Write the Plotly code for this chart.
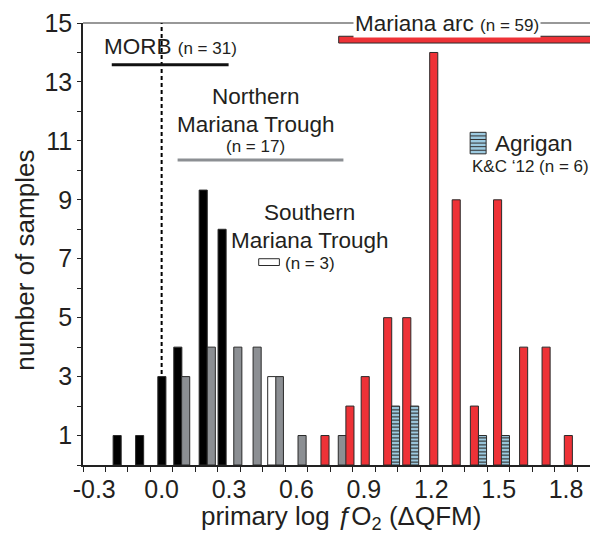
import plotly.graph_objects as go

# ---- data ----
morb_x = [-0.198, -0.098, 0.001, 0.072, 0.185, 0.269]
morb_y = [1, 1, 3, 4, 9.33, 8]
nmt_x = [0.107, 0.221, 0.339, 0.425, 0.524, 0.625, 0.804]
nmt_y = [3, 4, 4, 4, 3, 1, 1]
smt_x = [0.490]
smt_y = [3]
arc_x = [0.727, 0.838, 0.906, 1.006, 1.091, 1.211, 1.311, 1.392, 1.495, 1.611, 1.711, 1.810]
arc_y = [1, 2, 3, 5, 5, 14, 9, 2, 9, 4, 4, 1]
agr_x = [1.041, 1.126, 1.428, 1.530]
agr_y = [2, 2, 1, 1]

x_tick_vals = [-0.3, 0.0, 0.3, 0.6, 0.9, 1.2, 1.5, 1.8]
x_tick_text = ["-0.3", "0.0", "0.3", "0.6", "0.9", "1.2", "1.5", "1.8"]
x_edge_ticks = [round(-0.35 + 0.1 * k, 2) for k in range(23)]
y_tick_vals = list(range(0, 16))
y_tick_text = [str(v) if v % 2 == 1 else "" for v in y_tick_vals]

FONT = "Liberation Sans, Arial, Helvetica, sans-serif"
TXT = "#231f20"
OUT = "#2a2a2a"
BW = 0.036
RED = "#EE3237"
GRAY = "#8C8F93"
BLUE = "#9DCAE0"

fig = go.Figure()

def add_bars(x, y, color, name, pattern=None):
    marker = dict(color=color, line=dict(color=OUT, width=1))
    if pattern:
        marker["pattern"] = pattern
    fig.add_trace(go.Bar(x=x, y=y, width=BW, marker=marker, name=name,
                         showlegend=False))

add_bars(morb_x, morb_y, "#000000", "MORB")
add_bars(nmt_x, nmt_y, GRAY, "Northern Mariana Trough")
add_bars(smt_x, smt_y, "#FFFFFF", "Southern Mariana Trough")
add_bars(arc_x, arc_y, RED, "Mariana arc")
add_bars(agr_x, agr_y, BLUE, "Agrigan",
         pattern=dict(shape="-", fgcolor="#333333", bgcolor=BLUE, size=3.5,
                      solidity=0.35, fillmode="replace"))

shapes = []
shapes.append(dict(type="line", xref="x", yref="y", x0=0, x1=0, y0=0, y1=15,
                   line=dict(color="#000", width=2, dash="4px,3px"), layer="below"))
shapes.append(dict(type="line", xref="paper", yref="paper", x0=0, x1=1, y0=1, y1=1,
                   line=dict(color="#333", width=1.2)))
shapes.append(dict(type="line", xref="x", yref="y", x0=-0.222, x1=0.298, y0=13.58, y1=13.58,
                   line=dict(color="#111", width=3)))
shapes.append(dict(type="line", xref="x", yref="y", x0=0.071, x1=0.809, y0=10.35, y1=10.35,
                   line=dict(color=GRAY, width=3)))
shapes.append(dict(type="rect", xref="x", yref="y", x0=0.788, x1=1.99, y0=14.32, y1=14.55,
                   fillcolor=RED, line=dict(color=OUT, width=1)))
shapes.append(dict(type="rect", xref="x", yref="y", x0=0.432, x1=0.524, y0=6.77, y1=7.0,
                   fillcolor="#FFFFFF", line=dict(color=OUT, width=1)))
shapes.append(dict(type="rect", xref="x", yref="y", x0=1.373, x1=1.444, y0=10.56, y1=11.29,
                   fillcolor=BLUE, line=dict(color=OUT, width=1)))
for k in range(1, 6):
    yy = 10.56 + k * (11.29 - 10.56) / 6
    shapes.append(dict(type="line", xref="x", yref="y", x0=1.373, x1=1.444, y0=yy, y1=yy,
                       line=dict(color="#333", width=1)))

small = "<span style='font-size:17px'>%s</span>"
ann = []
def A(text, x, y, size=22.5, xanchor="center", **kw):
    d = dict(text=text, x=x, y=y, xref="x", yref="y", showarrow=False,
             xanchor=xanchor, yanchor="middle", font=dict(size=size, color=TXT, family=FONT))
    d.update(kw)
    ann.append(d)

A("MORB " + small % "(n = 31)", 0.038, 14.2)
A("Northern", 0.418, 12.51)
A("Mariana Trough", 0.419, 11.55)
A("(n = 17)", 0.418, 10.81, size=17)
A("Southern", 0.658, 8.56)
A("Mariana Trough", 0.662, 7.61)
A("(n = 3)", 0.541, 6.85, size=17, xanchor="left")
A("Agrigan", 1.474, 10.90, xanchor="left")
A("K&C \u201812 (n = 6)", 1.373, 10.13, size=17, xanchor="left")
ann.append(dict(text="Mariana arc " + small % "(n = 59)", x=1.270, y=1, xref="x", yref="paper",
                showarrow=False, xanchor="center", yanchor="middle", bgcolor="#FFFFFF",
                borderpad=1, font=dict(size=22.5, color=TXT, family=FONT)))
ann.append(dict(text="number of samples", x=-0.113, y=0.464, xref="paper", yref="paper",
                textangle=-90, showarrow=False, xanchor="center", yanchor="middle",
                font=dict(size=26, color=TXT, family=FONT)))
ann.append(dict(text="primary log <i>\u0192</i>O<sub>2</sub> (\u0394QFM)", x=0.5, y=-0.118,
                xref="paper", yref="paper", showarrow=False, xanchor="center", yanchor="middle",
                font=dict(size=26, color=TXT, family=FONT)))

# page body has an 8px default margin: shrink the figure so the plot lands where it should
fig.update_layout(
    width=590, height=526,
    margin=dict(l=75, r=0, t=15, b=69, autoexpand=False),
    paper_bgcolor="#FFFFFF", plot_bgcolor="#FFFFFF",
    barmode="overlay",
    shapes=shapes, annotations=ann,
    font=dict(family=FONT, color=TXT),
    xaxis=dict(range=[-0.35, 1.942], showgrid=False, zeroline=False, automargin=False,
               showline=True, linecolor="#222", linewidth=1.5,
               tickmode="array", tickvals=x_tick_vals, ticktext=x_tick_text,
               ticks="outside", ticklen=1, tickcolor="rgba(0,0,0,0)",
               tickfont=dict(size=25, family=FONT, color=TXT),
               minor=dict(tickmode="array", tickvals=x_edge_ticks, ticks="outside",
                          ticklen=5, tickwidth=1, tickcolor="#222", showgrid=False)),
    yaxis=dict(range=[0, 15], showgrid=False, zeroline=False, automargin=False,
               showline=True, linecolor="#222", linewidth=1.5,
               tickmode="array", tickvals=y_tick_vals, ticktext=y_tick_text,
               ticks="outside", ticklen=4, tickwidth=1, tickcolor="#222",
               tickfont=dict(size=25, family=FONT, color=TXT)),
)

fig.write_html("out.html")
